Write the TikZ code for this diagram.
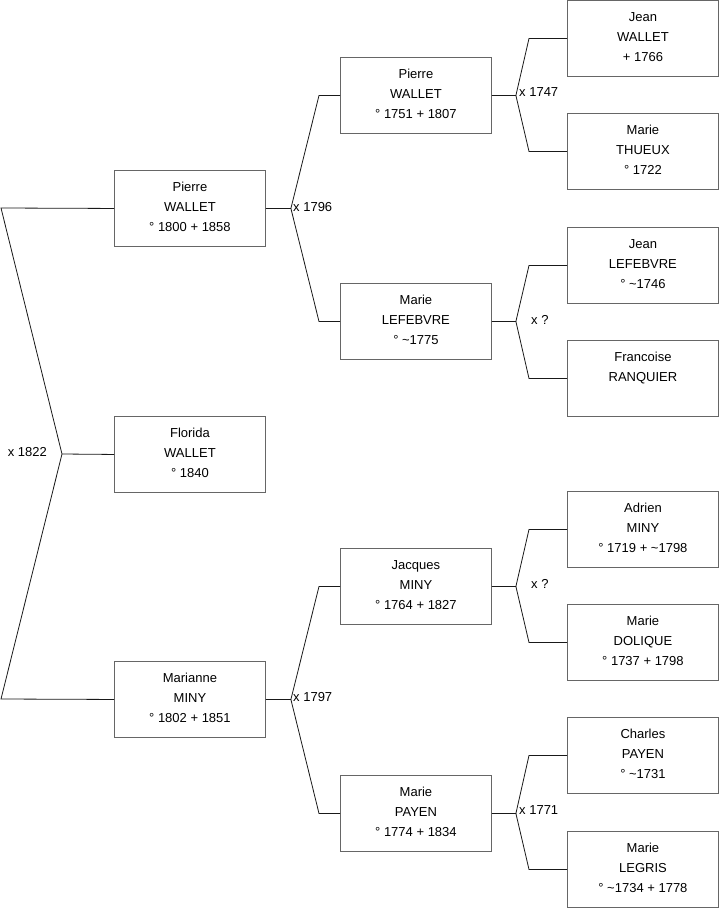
\documentclass[tikz,border=0pt]{standalone}
\usepackage{fontspec}
\setmainfont{Liberation Sans}
\begin{document}
\begin{tikzpicture}[x=1pt,y=-1pt,
  box/.style={draw=black!60, line width=0.9pt, fill=white, anchor=north west, inner sep=0pt,
    minimum width=151pt, minimum height=76pt},
  conn/.style={draw=black!90, line width=0.8pt},
  lbl/.style={font=\fontsize{13}{15}\selectfont, inner sep=0pt}]
\fill[white] (0,0) rectangle (719,908);
\useasboundingbox (0,0) rectangle (719,908);
\newcommand{\pers}[3]{\parbox[c][76pt][t]{151pt}{\centering\fontsize{13}{20}\selectfont\rule{0pt}{21pt}#1\\#2\\#3}}
% level 1
\node[box] (p1) at (114,170) {\pers{Pierre}{WALLET}{° 1800 + 1858}};
\node[box] (f1) at (114,416) {\pers{Florida}{WALLET}{° 1840}};
\node[box] (m1) at (114,661) {\pers{Marianne}{MINY}{° 1802 + 1851}};
% level 2
\node[box] (p2) at (340,57) {\pers{Pierre}{WALLET}{° 1751 + 1807}};
\node[box] (l2) at (340,283) {\pers{Marie}{LEFEBVRE}{° \textasciitilde1775}};
\node[box] (j2) at (340,548) {\pers{Jacques}{MINY}{° 1764 + 1827}};
\node[box] (y2) at (340,775) {\pers{Marie}{PAYEN}{° 1774 + 1834}};
% level 3
\node[box] (a3) at (567,0) {\pers{Jean}{WALLET}{+ 1766}};
\node[box] (b3) at (567,113) {\pers{Marie}{THUEUX}{° 1722}};
\node[box] (c3) at (567,227) {\pers{Jean}{LEFEBVRE}{° \textasciitilde1746}};
\node[box] (d3) at (567,340) {\pers{Francoise}{RANQUIER}{}};
\node[box] (e3) at (567,491) {\pers{Adrien}{MINY}{° 1719 + \textasciitilde1798}};
\node[box] (g3) at (567,604) {\pers{Marie}{DOLIQUE}{° 1737 + 1798}};
\node[box] (h3) at (567,717) {\pers{Charles}{PAYEN}{° \textasciitilde1731}};
\node[box] (i3) at (567,831) {\pers{Marie}{LEGRIS}{° \textasciitilde1734 + 1778}};
% root fork
\coordinate (r0) at (1,208);
\coordinate (r1) at (62,454);
\coordinate (r2) at (1,699);
\draw[conn] (p1.west) -- (r0) -- (r1) -- (r2) -- (m1.west);
\draw[conn] (r1) -- (f1.west);
\node[lbl, anchor=east] (x1822) at (47,452) {x 1822};
% generic fork: name, stem length, parent, upper child, lower child, branch length
\newcommand{\fork}[6]{%
  \coordinate (#1s) at ([xshift=#2]#3.east);
  \draw[conn] (#3.east) -- (#1s) -- ([xshift=-#6]#4.west) -- (#4.west);
  \draw[conn] (#1s) -- ([xshift=-#6]#5.west) -- (#5.west);
}
\fork{fa}{25pt}{p1}{p2}{l2}{21pt}
\fork{fb}{25pt}{m1}{j2}{y2}{21pt}
\fork{fc}{24pt}{p2}{a3}{b3}{38pt}
\fork{fd}{24pt}{l2}{c3}{d3}{38pt}
\fork{fe}{24pt}{j2}{e3}{g3}{38pt}
\fork{ff}{24pt}{y2}{h3}{i3}{38pt}
\node[lbl, anchor=west] (x1796) at (293,207) {x 1796};
\node[lbl, anchor=west] (x1797) at (293,697) {x 1797};
\node[lbl, anchor=west] (x1747) at (519,92) {x 1747};
\node[lbl, anchor=west] (xq1) at (531,320) {x ?};
\node[lbl, anchor=west] (xq2) at (531,584) {x ?};
\node[lbl, anchor=west] (x1771) at (519,810) {x 1771};
\end{tikzpicture}
\end{document}
